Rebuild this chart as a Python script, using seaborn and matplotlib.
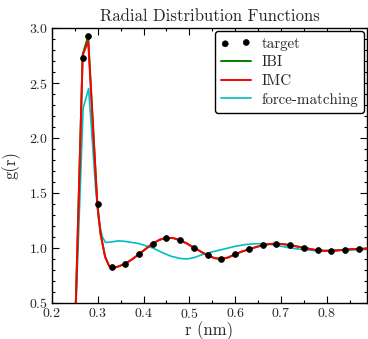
import numpy as np
import pandas as pd
import matplotlib
matplotlib.use("Agg")
import matplotlib.pyplot as plt
from matplotlib.ticker import MultipleLocator
import seaborn as sns

# ---- data ----
target_r = [0.268, 0.279, 0.30, 0.33, 0.36, 0.39, 0.42, 0.45, 0.48, 0.51, 0.54,
            0.57, 0.60, 0.63, 0.66, 0.69, 0.72, 0.75, 0.78, 0.81, 0.84, 0.87]
target_g = [2.725, 2.927, 1.40, 0.825, 0.857, 0.943, 1.04, 1.09, 1.07, 1.003, 0.934,
            0.90, 0.943, 0.988, 1.025, 1.04, 1.025, 1.003, 0.979, 0.975, 0.985, 0.99]

imc_r = [0.25, 0.267, 0.279, 0.299, 0.306, 0.316, 0.325, 0.333, 0.345, 0.36, 0.375,
         0.39, 0.405, 0.42, 0.435, 0.45, 0.465, 0.48, 0.495, 0.51, 0.525, 0.54,
         0.555, 0.57, 0.585, 0.60, 0.615, 0.63, 0.645, 0.66, 0.675, 0.69, 0.705,
         0.72, 0.735, 0.75, 0.765, 0.78, 0.795, 0.81, 0.825, 0.84, 0.855, 0.87,
         0.885, 0.90]
imc_g = [0.2, 2.75, 2.88, 1.40, 1.13, 0.92, 0.835, 0.818, 0.832, 0.857, 0.897,
         0.943, 0.993, 1.04, 1.075, 1.092, 1.09, 1.07, 1.04, 1.003, 0.967, 0.932,
         0.908, 0.90, 0.914, 0.943, 0.968, 0.988, 1.008, 1.025, 1.036, 1.04, 1.035,
         1.025, 1.014, 1.003, 0.99, 0.979, 0.975, 0.975, 0.979, 0.985, 0.99, 0.99,
         0.995, 1.0]

ibi_r = imc_r
ibi_g = [0.2, 2.76, 2.925, 1.40, 1.13, 0.92, 0.835, 0.818, 0.832, 0.857, 0.897,
         0.943, 0.993, 1.04, 1.075, 1.092, 1.09, 1.07, 1.04, 1.003, 0.967, 0.932,
         0.908, 0.90, 0.914, 0.943, 0.968, 0.988, 1.008, 1.025, 1.036, 1.04, 1.035,
         1.025, 1.014, 1.003, 0.99, 0.979, 0.975, 0.975, 0.979, 0.985, 0.99, 0.99,
         0.995, 1.0]

fm_r = [0.25, 0.268, 0.280, 0.295, 0.302, 0.31, 0.317, 0.33, 0.345, 0.36, 0.375,
        0.39, 0.405, 0.42, 0.44, 0.46, 0.48, 0.494, 0.51, 0.525, 0.54, 0.56,
        0.58, 0.60, 0.62, 0.64, 0.66, 0.69, 0.72, 0.75, 0.78, 0.81, 0.84, 0.87, 0.90]
fm_g = [0.2, 2.27, 2.45, 1.56, 1.25, 1.10, 1.05, 1.055, 1.065, 1.06, 1.05,
        1.04, 1.02, 1.0, 0.96, 0.925, 0.905, 0.90, 0.912, 0.935, 0.955, 0.975,
        0.995, 1.015, 1.03, 1.038, 1.04, 1.025, 1.0, 0.985, 0.975, 0.975, 0.98, 0.985, 0.99]

x_label = "r (nm)"
y_label = "g(r)"
title = "Radial Distribution Functions"

# ---- styling ----
sns.set_style("ticks")
plt.rcParams["font.family"] = ["cmr10", "DejaVu Serif"]
plt.rcParams["mathtext.fontset"] = "cm"
plt.rcParams["axes.formatter.use_mathtext"] = True
plt.rcParams["axes.unicode_minus"] = False

fig = plt.figure(figsize=(3.68, 3.39), dpi=100)
ax = fig.add_axes([0.1413, 0.1062, 0.8560, 0.8112])

green = (0.0, 0.5, 0.0)
red = (1.0, 0.0, 0.0)
cyan = (0.0, 0.75, 0.75)

sns.scatterplot(x=target_r, y=target_g, ax=ax, color="black", s=18,
                edgecolor="black", linewidth=0.5, zorder=5, label="target")
sns.lineplot(x=ibi_r, y=ibi_g, ax=ax, color=green, linewidth=1.4,
             sort=False, label="IBI", zorder=2)
sns.lineplot(x=imc_r, y=imc_g, ax=ax, color=red, linewidth=1.4,
             sort=False, label="IMC", zorder=3)
sns.lineplot(x=fm_r, y=fm_g, ax=ax, color=cyan, linewidth=1.2,
             sort=False, label="force-matching", zorder=1)

ax.set_xlim(0.2, 0.888)
ax.set_ylim(0.5, 3.0)
ax.xaxis.set_major_locator(MultipleLocator(0.1))
ax.xaxis.set_minor_locator(MultipleLocator(0.05))
ax.yaxis.set_major_locator(MultipleLocator(0.5))
ax.yaxis.set_minor_locator(MultipleLocator(0.1))
ax.tick_params(which="both", direction="in", top=True, right=True,
               labelsize=10, width=0.8, color="black")
ax.tick_params(which="major", length=5, pad=3)
ax.tick_params(which="minor", length=2.5)
for s in ax.spines.values():
    s.set_linewidth(1.0)
    s.set_color("black")

ax.set_xlabel(x_label, fontsize=12, labelpad=0)
ax.set_ylabel(y_label, fontsize=12, labelpad=6)
ax.set_title(title, fontsize=12, pad=5)

handles, labels = ax.get_legend_handles_labels()
leg = ax.legend(handles, labels, loc="upper right", fontsize=10.8,
                frameon=True, fancybox=True, edgecolor="black",
                framealpha=1.0, scatterpoints=2, handlelength=2.0,
                handletextpad=0.7, borderaxespad=0.2, labelspacing=0.32,
                borderpad=0.4)
leg.get_frame().set_linewidth(1.0)

fig.savefig("out.png", dpi=100)
